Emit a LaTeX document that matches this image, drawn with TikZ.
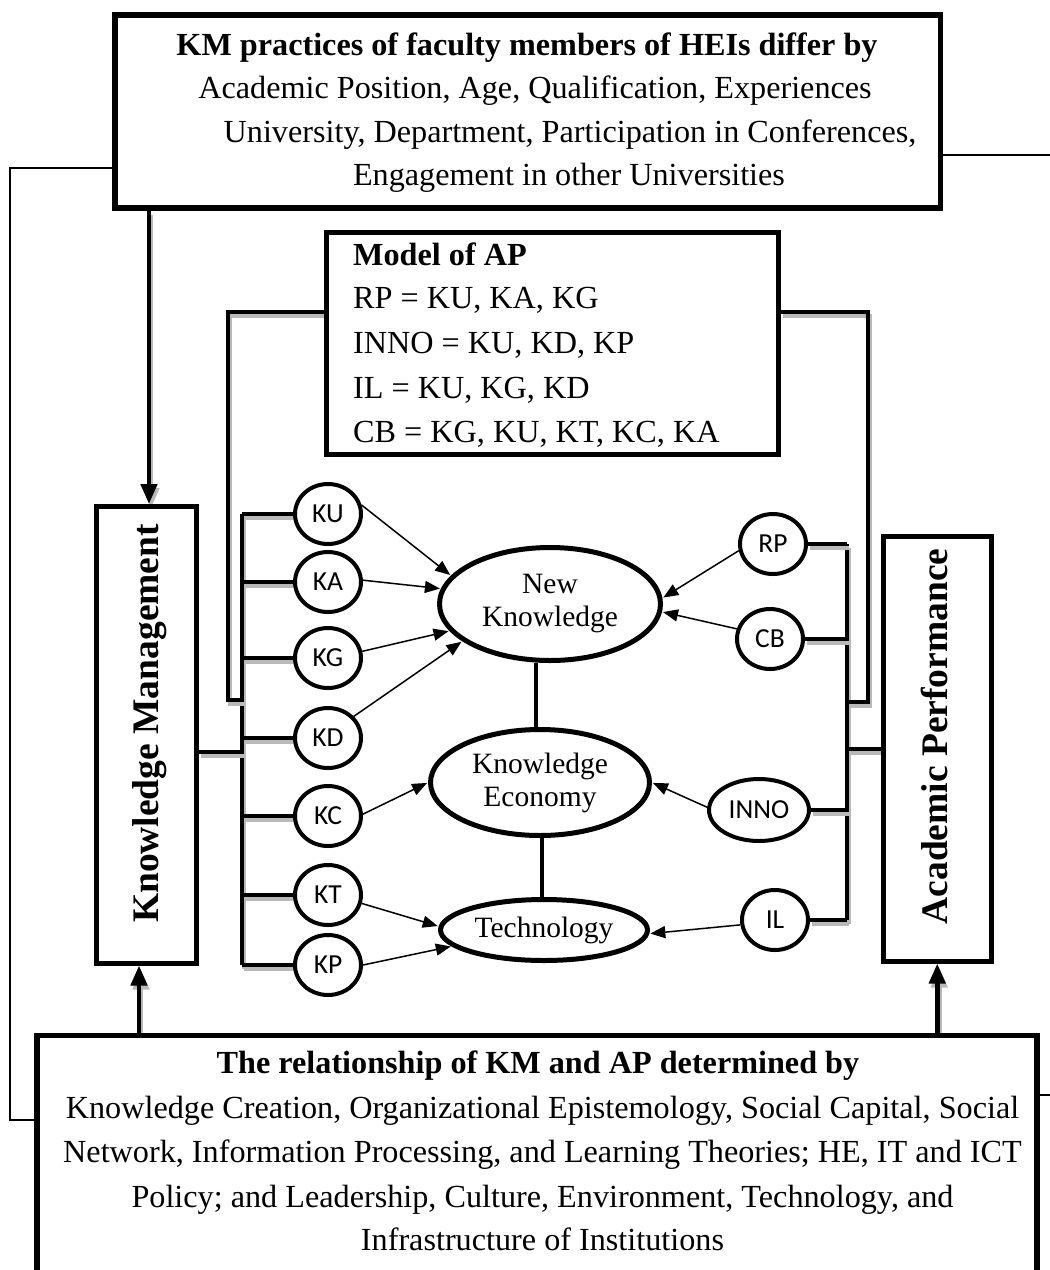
\documentclass[tikz,border=0pt]{standalone}
\usepackage{fontspec}
\setmainfont{Liberation Serif}
\newfontfamily\lblfont{Carlito}
\usetikzlibrary{arrows.meta,shapes.geometric,backgrounds}

\begin{document}
\begin{tikzpicture}[x=1pt,y=-1pt,
  box/.style={draw, line width=5pt, fill=white, inner sep=0pt},
  txt/.style={inner sep=0pt, anchor=base, font=\fontsize{32.2}{40}\selectfont},
  btxt/.style={txt, font=\bfseries\fontsize{32.2}{40}\selectfont},
  ltxt/.style={txt, anchor=base west},
  vtxt/.style={inner sep=0pt, anchor=base, rotate=90, font=\bfseries\fontsize{37.5}{40}\selectfont},
  sm/.style={ellipse, draw, line width=4pt, fill=white, inner sep=0pt,
    minimum width=66pt, minimum height=60pt, font=\lblfont\fontsize{27.5}{30}\selectfont},
  big/.style={ellipse, draw, line width=5pt, fill=white, inner sep=0pt,
    align=center, font=\fontsize{29.5}{33}\selectfont},
  conn/.style={line width=4.5pt,
    preaction={draw=gray!55, line width=4.5pt, transform canvas={xshift=2pt,yshift=-4pt}}},
  bigarr/.style={conn, -{Triangle[length=20pt,width=16pt]}},
  arr/.style={line width=1.5pt, -{Triangle[length=15pt,width=12pt]}, shorten >=1pt},
  fb/.style={line width=1.5pt},
  link/.style={line width=4.5pt}]

\useasboundingbox (0,0) rectangle (1050,1270);
\clip (0,0) rectangle (1050,1270);

% boxes
\node[box, line width=5.5pt, minimum width=825.5pt, minimum height=193pt] (top) at (527.75,111.7) {};
\node[box, line width=5.5pt, minimum width=1000pt, minimum height=264.5pt] (bot) at (537,1167.75) {};
\node[box, minimum width=100pt, minimum height=456.5pt] (KM) at (146,734.75) {};
\node[box, minimum width=107.5pt, minimum height=425pt] (AP) at (937.25,748.5) {};
\node[box, minimum width=451.7pt, minimum height=221.5pt] (Model) at (552.15,343.25) {};

% box texts
\node[btxt] (t1) at (527,55) {KM practices of faculty members of HEIs differ by};
\node[txt] (t2) at (535,98.5) {Academic Position, Age, Qualification, Experiences};
\node[txt] (t3) at (570,142) {University, Department, Participation in Conferences,};
\node[txt] (t4) at (569,185.5) {Engagement in other Universities};

\node[btxt, anchor=base west] (m1) at (353,265) {Model of AP};
\node[ltxt] (m2) at (353,308) {RP = KU, KA, KG};
\node[ltxt] (m3) at (353,353) {INNO = KU, KD, KP};
\node[ltxt] (m4) at (353,398) {IL = KU, KG, KD};
\node[ltxt] (m5) at (353,442) {CB = KG, KU, KT, KC, KA};

\node[btxt] (b1) at (538,1073) {The relationship of KM and AP determined by};
\node[txt] (b2) at (542.5,1118) {Knowledge Creation, Organizational Epistemology, Social Capital, Social};
\node[txt] (b3) at (542.5,1162) {Network, Information Processing, and Learning Theories; HE, IT and ICT};
\node[txt] (b4) at (542.5,1207) {Policy; and Leadership, Culture, Environment, Technology, and};
\node[txt] (b5) at (542.5,1250) {Infrastructure of Institutions};

\node[vtxt] (kmt) at (158,723.5) {Knowledge Management};
\node[vtxt] (apt) at (947,736.5) {Academic Performance};

% central ellipses
\node[big, minimum width=221pt, minimum height=113pt] (NK) at (550,604) {New\\Knowledge};
\node[big, minimum width=219pt, minimum height=106pt] (KE) at (540,782.5) {Knowledge\\Economy};
\node[big, minimum width=207pt, minimum height=61pt] (TE) at (544,930) {Technology};

% knowledge management dimensions
\node[sm] (KU) at (328,514) {KU};
\node[sm] (KA) at (328,582) {KA};
\node[sm] (KG) at (328,658) {KG};
\node[sm] (KD) at (328,738) {KD};
\node[sm] (KC) at (328,816) {KC};
\node[sm] (KT) at (328,895) {KT};
\node[sm] (KP) at (328,965) {KP};

% academic performance dimensions
\node[sm] (RP) at (773,544) {RP};
\node[sm] (CB) at (770,639) {CB};
\node[sm, minimum width=100pt, minimum height=62pt] (INNO) at (759,810) {INNO};
\node[sm] (IL) at (775,920) {IL};

% helper coordinates
\coordinate (LT) at (242,0);
\coordinate (RT) at (847,0);
\coordinate (km) at (242,752);
\coordinate (ap) at (847,749);
\coordinate (bL1) at (228,312);
\coordinate (bL2) at (228,700);
\coordinate (bR1) at (868,312);
\coordinate (bR2) at (868,702);
\coordinate (a0) at (149,0);
\coordinate (a1) at (139,0);
\coordinate (v1) at (536,0);
\coordinate (v2) at (542,0);
\coordinate (fbL1) at (10,168);
\coordinate (fbL2) at (10,1120);
\coordinate (fbR1) at (1060,155);
\coordinate (fbR2) at (1060,1095);

\begin{scope}[on background layer]
  % left trunk and branches
  \draw[conn] (KU.west -| LT) -- (KP.west -| LT);
  \foreach \n in {KU,KA,KG,KD,KC,KT,KP}
    \draw[conn] (\n.west -| LT) -- (\n.west);
  \draw[conn] (KM.east |- km) -- (km);
  % right trunk and branches
  \draw[conn] (RP.east -| RT) -- (IL.east -| RT);
  \foreach \n in {RP,CB,INNO,IL}
    \draw[conn] (\n.east -| RT) -- (\n.east);
  \draw[conn] (ap) -- (AP.west |- ap);
  % bracket round the model
  \draw[conn] (Model.west |- bL1) -- (bL1) -- (bL2) -- (bL2 -| LT);
  \draw[conn] (Model.east |- bR1) -- (bR1) -- (bR2) -- (bR2 -| RT);
  % vertical arrows between boxes
  \draw[bigarr] (top.south -| a0) -- (KM.north -| a0);
  \draw[bigarr] (bot.north -| a1) -- (KM.south -| a1);
  \draw[bigarr] (bot.north -| AP.south) -- (AP.south);
  % links between central ellipses
  \draw[link] (NK.south -| v1) -- (KE.north -| v1);
  \draw[link] (KE.south -| v2) -- (TE.north -| v2);
\end{scope}

% thin arrows into the central ellipses
\draw[arr] (KU.15) -- (NK.164);
\draw[arr] (KA.3) -- (NK.172);
\draw[arr] (KG.11) -- (NK.195);
\draw[arr] (KD.40) -- (NK.203);
\draw[arr] (KC.3) -- (KE.180);
\draw[arr] (KT.346) -- (TE.178);
\draw[arr] (KP.0) -- (TE.190);
\draw[arr] (RP.191) -- (NK.3);
\draw[arr] (CB.163) -- (NK.356);
\draw[arr] (INNO.177) -- (KE.0);
\draw[arr] (IL.188) -- (TE.358);

% feedback lines
\draw[fb] (top.west |- fbL1) -- (fbL1) -- (fbL2) -- (bot.west |- fbL2);
\draw[fb] (top.east |- fbR1) -- (fbR1);
\draw[fb] (bot.east |- fbR2) -- (fbR2);
\end{tikzpicture}
\end{document}
